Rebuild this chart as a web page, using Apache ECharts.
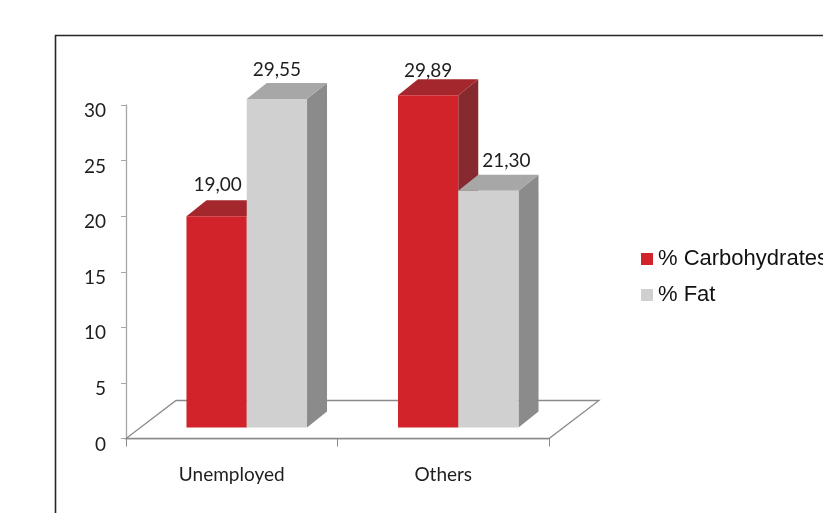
<!DOCTYPE html>
<html>
<head>
<meta charset="utf-8">
<script src="https://cdn.jsdelivr.net/npm/echarts@6/dist/echarts.min.js"></script>
<style>
  html, body { margin: 0; padding: 0; background: #ffffff; }
  #chart { width: 823px; height: 513px; }
</style>
</head>
<body>
<div id="chart"></div>
<script>
// Categories and series values
const categories = ['Unemployed', 'Others'];
const carbohydrates = [19.00, 29.89];
const fat = [29.55, 21.30];
const seriesNames = ['% Carbohydrates', '% Fat'];
const yTicks = [0, 5, 10, 15, 20, 25, 30];

// Pseudo-3D look: floor depth, bar depth and the shading of each face
const FLOOR_DEPTH = [50, -38];
const BAR_DEPTH = [20, -16];
const BAR_SHIFT = [(FLOOR_DEPTH[0] - BAR_DEPTH[0]) / 2, (FLOOR_DEPTH[1] - BAR_DEPTH[1]) / 2];
const BAR_FRACTION = 0.285;
const faceColors = [
  { front: '#d2232a', top: '#a4272d', side: '#872a2f' },
  { front: '#d0d0d0', top: '#a7a7a7', side: '#8b8b8b' }
];
// small per-bar adjustments of the value labels [seriesIndex][categoryIndex]
const labelNudge = [[[1, 0], [0, 7]], [[0, 2], [18, 1]]];
const fmt = v => v.toFixed(2).replace('.', ',');

const chart = echarts.init(document.getElementById('chart'), null, { renderer: 'canvas' });

function floorItem(params, api) {
  const cs = params.coordSys;
  const fl = [cs.x, cs.y + cs.height];
  const fr = [cs.x + cs.width, cs.y + cs.height];
  const br = [fr[0] + FLOOR_DEPTH[0], fr[1] + FLOOR_DEPTH[1]];
  const bl = [fl[0] + FLOOR_DEPTH[0], fl[1] + FLOOR_DEPTH[1]];
  return {
    type: 'polygon',
    shape: { points: [fl, fr, br, bl] },
    style: { fill: '#ffffff', stroke: '#8a8a8a', lineWidth: 1.3 }
  };
}

function barItem(sIdx) {
  return function (params, api) {
    const ci = api.value(0);
    const val = api.value(1);
    const base = api.coord([ci, 0]);
    const top = api.coord([ci, val]);
    const bandW = api.size([1, 0])[0];
    const w = bandW * BAR_FRACTION;
    const x0 = base[0] - w + sIdx * w + BAR_SHIFT[0];
    const x1 = x0 + w;
    const yb = base[1] + BAR_SHIFT[1];
    const yt = top[1] + BAR_SHIFT[1];
    const dx = BAR_DEPTH[0], dy = BAR_DEPTH[1];
    const c = faceColors[sIdx];
    const nudge = labelNudge[sIdx][ci];
    return {
      type: 'group',
      children: [
        {
          type: 'polygon',
          shape: { points: [[x1, yt], [x1 + dx, yt + dy], [x1 + dx, yb + dy], [x1, yb]] },
          style: { fill: c.side }
        },
        {
          type: 'polygon',
          shape: { points: [[x0, yt], [x1, yt], [x1 + dx, yt + dy], [x0 + dx, yt + dy]] },
          style: { fill: c.top }
        },
        {
          type: 'rect',
          shape: { x: x0, y: yt, width: w, height: yb - yt },
          style: { fill: c.front }
        },
        {
          type: 'text',
          style: {
            x: (x0 + x1) / 2 + nudge[0],
            y: yt + dy - 15 + nudge[1],
            text: fmt(val),
            fill: '#1e1e1e',
            font: '19px Lato',
            align: 'center',
            verticalAlign: 'middle'
          }
        }
      ]
    };
  };
}

const option = {
  animation: false,
  backgroundColor: '#ffffff',
  graphic: [
    {
      type: 'rect',
      shape: { x: 55.5, y: 35.5, width: 900, height: 600 },
      style: { fill: 'none', stroke: '#262626', lineWidth: 1.6 },
      z: 0
    }
  ],
  grid: { left: 126, right: 274, top: 105, bottom: 74.5, containLabel: false },
  legend: {
    orient: 'vertical',
    left: 641,
    top: 248,
    padding: 0,
    itemWidth: 12,
    itemHeight: 12,
    itemGap: 14,
    icon: 'rect',
    data: seriesNames,
    textStyle: { fontFamily: 'Liberation Sans', fontSize: 22, color: '#111111', lineHeight: 22 }
  },
  xAxis: {
    type: 'category',
    data: categories,
    axisLine: { show: true, lineStyle: { color: '#8a8a8a', width: 1.3 } },
    axisTick: { show: true, length: 8, lineStyle: { color: '#8a8a8a' } },
    axisLabel: { fontFamily: 'Lato', fontSize: 19, color: '#1e1e1e', margin: 27 },
    splitLine: { show: false }
  },
  yAxis: {
    type: 'value',
    min: yTicks[0],
    max: yTicks[yTicks.length - 1],
    interval: yTicks[1] - yTicks[0],
    axisLine: { show: true, lineStyle: { color: '#a6a6a6', width: 1.3 } },
    axisTick: { show: true, length: 5, lineStyle: { color: '#a6a6a6' } },
    axisLabel: {
      fontFamily: 'Lato', fontSize: 19, color: '#1e1e1e', margin: 20,
      verticalAlign: 'top', lineHeight: 12
    },
    splitLine: { show: false }
  },
  series: [
    {
      type: 'custom',
      name: 'floor',
      renderItem: floorItem,
      data: [[0, 0]],
      silent: true,
      z: 1
    },
    {
      type: 'custom',
      name: seriesNames[0],
      itemStyle: { color: faceColors[0].front },
      renderItem: barItem(0),
      data: categories.map((c, i) => [i, carbohydrates[i]]),
      z: 2
    },
    {
      type: 'custom',
      name: seriesNames[1],
      itemStyle: { color: faceColors[1].front },
      renderItem: barItem(1),
      data: categories.map((c, i) => [i, fat[i]]),
      z: 3
    }
  ]
};

chart.setOption(option);
</script>
</body>
</html>
